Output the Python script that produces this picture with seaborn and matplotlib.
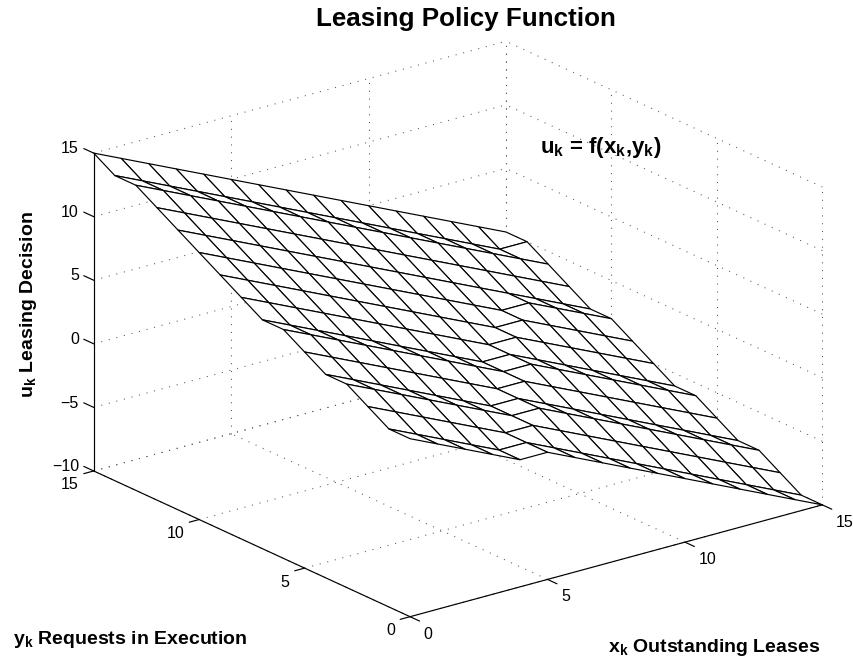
import numpy as np
import matplotlib
matplotlib.use("Agg")
import matplotlib.pyplot as plt
import seaborn as sns

x_states = list(range(16))
y_states = list(range(16))
x_ticks = [0, 5, 10, 15]
y_ticks = [0, 5, 10, 15]
z_ticks = [-10, -5, 0, 5, 10, 15]

# one row per y (0..15), one column per x (0..15)
policy = [
    [4, 3, 2, 1, 0, 0, -1, -2, -3, -4, -5, -6, -7, -8, -9, -10],
    [4, 3, 2, 1, 0, 0, -1, -2, -3, -4, -5, -6, -7, -8, -9, -10],
    [5, 4, 3, 2, 1, 0, 0, -1, -2, -3, -4, -5, -6, -7, -8, -9],
    [6, 5, 4, 3, 2, 1, 0, 0, -1, -2, -3, -4, -5, -6, -7, -8],
    [6, 5, 4, 3, 2, 1, 0, 0, -1, -2, -3, -4, -5, -6, -7, -8],
    [7, 6, 5, 4, 3, 2, 1, 0, 0, -1, -2, -3, -4, -5, -6, -7],
    [8, 7, 6, 5, 4, 3, 2, 1, 0, 0, -1, -2, -3, -4, -5, -6],
    [8, 7, 6, 5, 4, 3, 2, 1, 0, 0, -1, -2, -3, -4, -5, -6],
    [9, 8, 7, 6, 5, 4, 3, 2, 1, 0, 0, -1, -2, -3, -4, -5],
    [10, 9, 8, 7, 6, 5, 4, 3, 2, 1, 0, 0, -1, -2, -3, -4],
    [11, 10, 9, 8, 7, 6, 5, 4, 3, 2, 1, 0, 0, -1, -2, -3],
    [12, 11, 10, 9, 8, 7, 6, 5, 4, 3, 2, 1, 0, -1, -2, -3],
    [13, 12, 11, 10, 9, 8, 7, 6, 5, 4, 3, 2, 1, 0, -1, -2],
    [14, 13, 12, 11, 10, 9, 8, 7, 6, 5, 4, 3, 2, 1, 0, -1],
    [14, 13, 12, 11, 10, 9, 8, 7, 6, 5, 4, 3, 2, 1, 0, 0],
    [15, 14, 13, 12, 11, 10, 9, 8, 7, 6, 5, 4, 3, 2, 1, 0],
]

sns.set_theme(style="white")
plt.rcParams["font.family"] = ["Liberation Sans", "DejaVu Sans"]
plt.rcParams["mathtext.fontset"] = "custom"
plt.rcParams["mathtext.bf"] = "Liberation Sans:bold"
plt.rcParams["mathtext.rm"] = "Liberation Sans:bold"

W, H = 854, 662
fig = plt.figure(figsize=(W / 100, H / 100), dpi=100)
size = 786
left = 458 - 0.5135 * size
bottom = 333 - 0.5135 * size
ax = fig.add_axes([left / W, bottom / H, size / W, size / H], projection="3d")
ax.set_proj_type("ortho")
ax.set_box_aspect((520, 520, 340))
ax.view_init(elev=20.7, azim=-127.5)
ax.set_xlim(0, 15, view_margin=0)
ax.set_ylim(0, 15, view_margin=0)
ax.set_zlim(-10, 15, view_margin=0)
ax.set_xticks([])
ax.set_yticks([])
ax.set_zticks([])
ax.set_axis_off()
ax.computed_zorder = False
ax.patch.set_alpha(0)

x0, x1 = x_ticks[0], x_ticks[-1]
y0, y1 = y_ticks[0], y_ticks[-1]
z0, z1 = z_ticks[0], z_ticks[-1]
dotted = dict(color="#555555", lw=0.75, ls=(0, (1, 6.5)), zorder=1)
solid = dict(color="black", lw=0.85, zorder=3)
tick_font = dict(fontsize=11.5, color="black")

# grid on floor and the two back walls
for t in x_ticks:
    ax.plot([t, t], [y0, y1], [z0, z0], **dotted)
    ax.plot([t, t], [y1, y1], [z0, z1], **dotted)
for t in y_ticks:
    ax.plot([x0, x1], [t, t], [z0, z0], **dotted)
    ax.plot([x1, x1], [t, t], [z0, z1], **dotted)
for t in z_ticks:
    ax.plot([x0, x1], [y1, y1], [t, t], **dotted)
    ax.plot([x1, x1], [y0, y1], [t, t], **dotted)

X, Y = np.meshgrid(x_states, y_states)
ax.plot_surface(X, Y, np.array(policy, dtype=float), rstride=1, cstride=1,
                color="white", edgecolor="black", linewidth=0.85,
                shade=False, antialiased=True, zorder=2)

# axes and ticks
ax.plot([x0, x1], [y0, y0], [z0, z0], **solid)
ax.plot([x0, x0], [y0, y1], [z0, z0], **solid)
ax.plot([x0, x0], [y1, y1], [z0, z1], **solid)
for t in x_ticks:
    ax.plot([t, t], [y0, y0 - 0.45], [z0, z0], **solid)
    ax.text(t + 0.28, y0 - 0.28, z0 - 1.32, str(t), ha="left", va="center", **tick_font)
for t in y_ticks:
    ax.plot([x0, x0 - 0.36], [t, t], [z0, z0], **solid)
    ax.text(x0 - 0.545, t, z0 - 0.78, str(t), ha="right", va="center", **tick_font)
for t in z_ticks:
    ax.plot([x0, x0], [y1, y1 + 0.47], [t, t], **solid)
    ax.text(x0, y1 + 0.7, t - 0.2, str(t).replace("-", "\u2212"), ha="right", va="center",
            **tick_font)

label = dict(fontweight="bold", color="black", ha="left", va="baseline")
fig.text(316 / W, 1 - 26 / H, "Leasing Policy Function", fontsize=18.7, **label)
fig.text(540 / W, 1 - 153 / H, r"$\mathbf{u_k}$ = f($\mathbf{x_k}$,$\mathbf{y_k}$)",
         fontsize=16, **label)
fig.text(33 / W, 1 - 398 / H, r"$\mathbf{u_k}$ Leasing Decision", rotation=90,
         rotation_mode="anchor", fontsize=14, **label)
fig.text(13 / W, 1 - 644 / H, r"$\mathbf{y_k}$ Requests in Execution", fontsize=14, **label)
fig.text(608 / W, 1 - 652 / H, r"$\mathbf{x_k}$ Outstanding Leases", fontsize=14, **label)

fig.savefig("out.png", dpi=100)
